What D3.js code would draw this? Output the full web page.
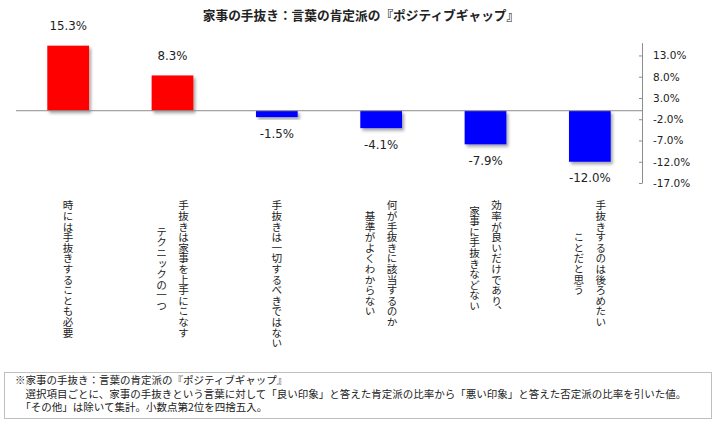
<!DOCTYPE html>
<html><head><meta charset="utf-8">
<script src="https://cdn.jsdelivr.net/npm/d3@7"></script>
<style>
html,body{margin:0;padding:0;background:#fff;}
svg{display:block;}
</style></head>
<body>
<script>
const title = "家事の手抜き：言葉の肯定派の『ポジティブギャップ』";
const categories = [
  "時には手抜きすることも必要",
  "手抜きは家事を上手にこなす\nテクニックの一つ",
  "手抜きは一切するべきではない",
  "何が手抜きに該当するのか\n基準がよくわからない",
  "効率が良いだけであり、\n家事に手抜きなどない",
  "手抜きするのは後ろめたい\nことだと思う"
];
const values = [15.3, 8.3, -1.5, -4.1, -7.9, -12.0];
const tickValues = [13, 8, 3, -2, -7, -12, -17];
const yDomain = [-17, 16];
const footnote = [
  "※家事の手抜き：言葉の肯定派の『ポジティブギャップ』",
  "　選択項目ごとに、家事の手抜きという言葉に対して「良い印象」と答えた肯定派の比率から「悪い印象」と答えた否定派の比率を引いた値。",
  "　「その他」は除いて集計。小数点第2位を四捨五入。"
];

const W = 716, H = 424;
const svg = d3.select("body").append("svg").attr("width", W).attr("height", H);

const defs = svg.append("defs");
const f = defs.append("filter").attr("id","shadow").attr("x","-20%").attr("y","-20%").attr("width","150%").attr("height","150%");
f.append("feDropShadow").attr("dx",2).attr("dy",2.5).attr("stdDeviation",1.6).attr("flood-color","#000").attr("flood-opacity",0.35);

const x = d3.scaleBand().domain(categories).range([16, 642]).paddingInner(0.6).paddingOuter(0.3);
const y = d3.scaleLinear().domain(yDomain).range([183, 42.7]);

// title
svg.append("text").attr("x", 361).attr("y", 17).attr("text-anchor","middle")
  .attr("dominant-baseline","middle")
  .style("font-family","'Noto Sans CJK JP'").style("font-weight","bold").style("font-size","12.7px")
  .attr("fill","#222").text(title);

// bars
svg.append("g").selectAll("rect").data(values).join("rect")
  .attr("x", (d,i) => x(categories[i]))
  .attr("width", x.bandwidth())
  .attr("y", d => y(Math.max(0,d)))
  .attr("height", d => Math.abs(y(d) - y(0)))
  .attr("fill", d => d >= 0 ? "#FF0000" : "#0000FF")
  .attr("filter","url(#shadow)");

// zero line
svg.append("line").attr("x1", 16).attr("x2", 642).attr("y1", y(0)).attr("y2", y(0))
  .attr("stroke","#8c8c8c").attr("stroke-width",1);

// axis
const ax = svg.append("g").attr("transform", `translate(642,0)`)
  .call(d3.axisRight(y).tickValues(tickValues).tickSizeInner(-3).tickSizeOuter(0).tickPadding(11)
    .tickFormat(d => d.toFixed(1) + "%"));
ax.select(".domain").attr("stroke","#8c8c8c");
ax.selectAll(".tick line").attr("stroke","#8c8c8c");
ax.selectAll(".tick text").style("font-family","'DejaVu Sans'").style("font-size","10.5px").attr("fill","#222");

// value labels
svg.append("g").selectAll("text").data(values).join("text")
  .attr("x", (d,i) => x(categories[i]) + x.bandwidth()/2)
  .attr("y", d => d >= 0 ? y(d) - 19 : y(d) + 17)
  .attr("text-anchor","middle").attr("dominant-baseline","middle")
  .style("font-family","'DejaVu Sans'").style("font-size","11.8px").attr("fill","#222")
  .text(d => d.toFixed(1) + "%");

// category labels (vertical)
const charH = 10.6;
const labTop = 200;
categories.forEach(c => {
  const lines = c.split("\n");
  const maxLen = d3.max(lines, l => l.length);
  const cy = labTop + maxLen * charH / 2;
  const cx = x(c) + x.bandwidth()/2;
  const n = lines.length;
  lines.forEach((l, j) => {
    const off = (n - 1) / 2 * 22 - j * 22;
    svg.append("text")
      .attr("x", cx + off).attr("y", cy)
      .attr("text-anchor","middle")
      .style("writing-mode","vertical-rl")
      .style("font-family","'Noto Sans CJK JP'").style("font-size", charH + "px")
      .attr("fill","#222").text(l);
  });
});

// footnote box
svg.append("rect").attr("x", 4.5).attr("y", 372.5).attr("width", 707).attr("height", 46)
  .attr("fill","none").attr("stroke","#bfbfbf").attr("stroke-width",1);
svg.append("g").selectAll("text").data(footnote).join("text")
  .attr("x", 15).attr("y", (d,i) => 381.5 + i*13.5)
  .attr("dominant-baseline","middle")
  .style("font-family","'Noto Sans CJK JP'").style("font-size","10.5px").attr("fill","#222")
  .text(d => d);
</script>
</body></html>
